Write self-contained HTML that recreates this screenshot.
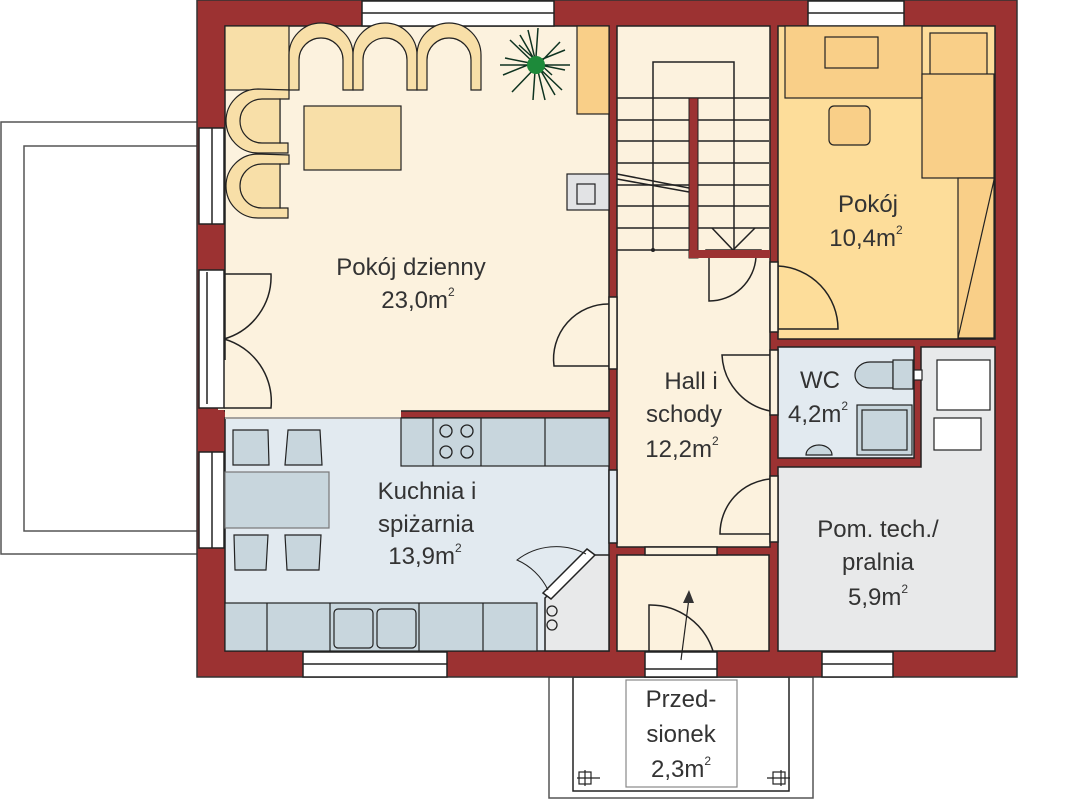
<!DOCTYPE html>
<html><head><meta charset="utf-8"><style>
html,body{margin:0;padding:0;background:#fff;width:1081px;height:799px;overflow:hidden}
svg{display:block}
text{font-family:"Liberation Sans",sans-serif;fill:#333;font-size:24px;text-anchor:middle}
</style></head><body>
<svg width="1081" height="799" viewBox="0 0 1081 799" xmlns="http://www.w3.org/2000/svg">
<g stroke="#555" stroke-width="1.5" fill="#fff">
<rect x="1" y="122" width="198" height="432"/>
<rect x="24" y="146" width="175" height="385"/>
<rect x="549" y="677" width="264" height="121" fill="none"/>
<rect x="573" y="677" width="216" height="114" fill="none" stroke="#222"/>
</g>
<rect x="197" y="0" width="820" height="677" fill="#9c3232" stroke="#333" stroke-width="1.5"/>
<g stroke="#222" stroke-width="1.5">
<rect x="225" y="26" width="384" height="385" fill="#fcf2de"/>
<rect x="225" y="418" width="384" height="233" fill="#e2eaf0"/>
<rect x="617" y="26" width="153" height="521" fill="#fcf2de"/>
<rect x="778" y="26" width="217" height="313" fill="#fddd9a"/>
<rect x="778" y="347" width="136" height="111" fill="#e2eaf0"/>
<path d="M921 347H995V651H778V467H921Z" fill="#e8e9ea"/>
<rect x="617" y="555" width="152" height="96" fill="#fcf2de"/>
<path d="M545 598L589 555H609V651H545Z" fill="#e8e9ea"/>
</g>
<rect x="225" y="405" width="176" height="14" fill="#fcf2de"/>
<line x1="225" y1="418" x2="401" y2="418" stroke="#888" stroke-width="1.5"/>
<rect x="218" y="360" width="8" height="50" fill="#fcf2de"/>
<g fill="#fff" stroke="#222" stroke-width="1.5">
<rect x="362" y="1" width="192" height="25"/><line x1="362" y1="13" x2="554" y2="13"/>
<rect x="808" y="1" width="96" height="25"/><line x1="808" y1="13" x2="904" y2="13"/>
<rect x="303" y="652" width="144" height="25"/><line x1="303" y1="664" x2="447" y2="664"/>
<rect x="822" y="652" width="71" height="25"/><line x1="822" y1="664" x2="893" y2="664"/>
<rect x="645" y="652" width="72" height="25"/><line x1="645" y1="669" x2="717" y2="669"/>
<rect x="199" y="128" width="25" height="96"/><line x1="212" y1="128" x2="212" y2="224"/>
<rect x="199" y="452" width="25" height="96"/><line x1="212" y1="452" x2="212" y2="548"/>
<rect x="199" y="270" width="25" height="138"/><line x1="207" y1="272" x2="207" y2="404"/>
<rect x="609" y="297" width="8" height="72" fill="#fcf2de"/>
<rect x="770" y="262" width="8" height="70" fill="#fcf2de"/>
<rect x="770" y="350" width="8" height="65" fill="#fcf2de"/>
<rect x="770" y="476" width="8" height="66" fill="#fcf2de"/>
<rect x="609" y="470" width="8" height="73" fill="#e2eaf0"/>
<rect x="645" y="547" width="72" height="8" fill="#fcf2de"/>
<rect x="706" y="250" width="55" height="7" fill="#fcf2de"/>
</g>
<path d="M587 549L595 555L551 599L543 593Z" fill="#fff" stroke="#222" stroke-width="1.5"/>
<path d="M548 590A62 62 0 0 0 517 560A64 64 0 0 1 586 554" fill="none" stroke="#222" stroke-width="1"/>
<g fill="none" stroke="#222" stroke-width="1.5">
<path d="M224 274H271A65 65 0 0 1 224 339"/>
<path d="M224 408H271A65 65 0 0 0 224 339"/>
<path d="M609 304A55 55 0 0 0 554 366H609"/>
<path d="M709 257V301A47 47 0 0 0 756 257"/>
<path d="M778 266A63 63 0 0 1 838 329H778"/>
<path d="M770 355H722A60 60 0 0 0 770 411"/>
<path d="M770 479A55 55 0 0 0 720 534H770"/>
<path d="M649 651V605A66 66 0 0 1 713 651"/>
</g>
<g stroke="#222" stroke-width="1.5" fill="none">
<path d="M617 98H769M617 120H769M617 141H769M617 163H769M617 185H769M617 206H769M617 228H769M617 250H689"/>
<path d="M653 250V62H734V250"/>
<path d="M617 174L689 188M617 179L689 192"/>
<path d="M712 228L733 250L755 228"/>
</g>
<circle cx="653" cy="250" r="2" fill="#222"/>
<rect x="689" y="98" width="9" height="160" fill="#9c3232" stroke="#222"/>
<rect x="689" y="250" width="81" height="8" fill="#9c3232"/>
<g fill="#f8dfa8" stroke="#222" stroke-width="1.2">
<rect x="225" y="26" width="64" height="64"/>
<path d="M289 90V55A32 32 0 0 1 353 55V90H343V60A22 22 0 0 0 299 60V90Z"/>
<path d="M353 90V55A32 32 0 0 1 417 55V90H407V60A22 22 0 0 0 363 60V90Z"/>
<path d="M417 90V55A32 32 0 0 1 481 55V90H471V60A22 22 0 0 0 427 60V90Z"/>
<path d="M289 90V99H280V143H288V153H258A32 32 0 0 1 258 89Z"/>
<path d="M280 99H262A22 22 0 0 0 262 143H280Z" fill="#f8dfa8"/>
<path d="M289 155V164H280V208H288V218H258A32 32 0 0 1 258 154Z"/>
<path d="M280 164H262A22 22 0 0 0 262 208H280Z"/>
<rect x="304" y="106" width="97" height="64"/>
<rect x="577" y="26" width="32" height="88" fill="#f9cf88"/>
<rect x="567" y="174" width="42" height="36" fill="#e2e3e5"/>
<rect x="577" y="184" width="18" height="20" fill="#e2e3e5"/>
</g>
<g stroke="#0e3320" stroke-width="1.5"><path d="M519 45L552 75M538 28L533 100M503 75L565 50M512 92L560 42M520 35L555 95M505 58L565 70M500 65L570 65M528 30L545 100M510 40L562 90"/></g>
<circle cx="536" cy="65" r="9" fill="#1d8a3a"/>
<g fill="#f9cf88" stroke="#222" stroke-width="1.2">
<rect x="785" y="26" width="137" height="72"/>
<rect x="825" y="37" width="53" height="31"/>
<rect x="829" y="106" width="41" height="39" rx="5"/>
<rect x="930" y="33" width="57" height="58"/>
<rect x="922" y="74" width="72" height="104"/>
<rect x="958" y="178" width="36" height="160"/>
<path d="M958 338L994 180" fill="none"/>
</g>
<g fill="#c8d6dd" stroke="#222" stroke-width="1.2">
<rect x="857" y="405" width="55" height="50"/>
<rect x="862" y="410" width="45" height="40"/>
<path d="M893 362H870A15 13 0 0 0 870 388H893Z"/>
<rect x="893" y="360" width="20" height="29"/>
<path d="M806 455A13 10 0 0 1 832 455Z"/>
<rect x="914" y="370" width="8" height="10" fill="#fff"/>
<g fill="#fff"><rect x="937" y="360" width="53" height="50"/><rect x="934" y="418" width="47" height="32"/></g>
</g>
<g fill="#c8d6dd" stroke="#222" stroke-width="1.2">
<rect x="401" y="418" width="208" height="48"/>
<path d="M433 418V466M481 418V466M545 418V466" fill="none"/>
<rect x="225" y="603" width="312" height="48"/>
<path d="M267 603V651M330 603V651M419 603V651M483 603V651" fill="none"/>
<rect x="334" y="609" width="39" height="39" rx="4"/><rect x="377" y="609" width="39" height="39" rx="4"/>
<rect x="225" y="472" width="104" height="56" stroke="#777"/>
<path d="M233 430H268L269 465H233Z"/><path d="M288 430H320L322 465H285Z"/>
<path d="M234 535H268L266 570H235Z"/><path d="M285 535H321L319 570H287Z"/>
</g>
<g fill="none" stroke="#222" stroke-width="1.3">
<circle cx="446" cy="431" r="6"/><circle cx="467" cy="431" r="6"/><circle cx="446" cy="452" r="6"/><circle cx="467" cy="452" r="6"/>
<circle cx="552" cy="611" r="5"/><circle cx="552" cy="625" r="5"/>
</g>
<g stroke="#222" stroke-width="1.2" fill="none">
<path d="M577 778H600M585 770V786M767 778H790M781 770V786"/>
<rect x="579" y="772" width="12" height="12"/><rect x="773" y="772" width="12" height="12"/>
<line x1="681" y1="660" x2="689" y2="598"/>
</g>
<path d="M689 590L683 603H694Z" fill="#333"/>
<rect x="626" y="680" width="111" height="107" fill="#fff" stroke="#888" stroke-width="1.2"/>
<text x="411" y="275">Pokój dzienny</text>
<text x="418" y="308">23,0m<tspan font-size="12" dy="-12">2</tspan></text>
<text x="868" y="212">Pokój</text>
<text x="866" y="246">10,4m<tspan font-size="12" dy="-12">2</tspan></text>
<text x="691" y="389">Hall i</text>
<text x="684" y="422">schody</text>
<text x="682" y="457">12,2m<tspan font-size="12" dy="-12">2</tspan></text>
<text x="820" y="388">WC</text>
<text x="818" y="422">4,2m<tspan font-size="12" dy="-12">2</tspan></text>
<text x="427" y="499">Kuchnia i</text>
<text x="426" y="532">spiżarnia</text>
<text x="425" y="564">13,9m<tspan font-size="12" dy="-12">2</tspan></text>
<text x="878" y="537">Pom. tech./</text>
<text x="878" y="570">pralnia</text>
<text x="878" y="605">5,9m<tspan font-size="12" dy="-12">2</tspan></text>
<text x="681" y="707">Przed-</text>
<text x="681" y="742">sionek</text>
<text x="681" y="777">2,3m<tspan font-size="12" dy="-12">2</tspan></text>
</svg>
</body></html>
